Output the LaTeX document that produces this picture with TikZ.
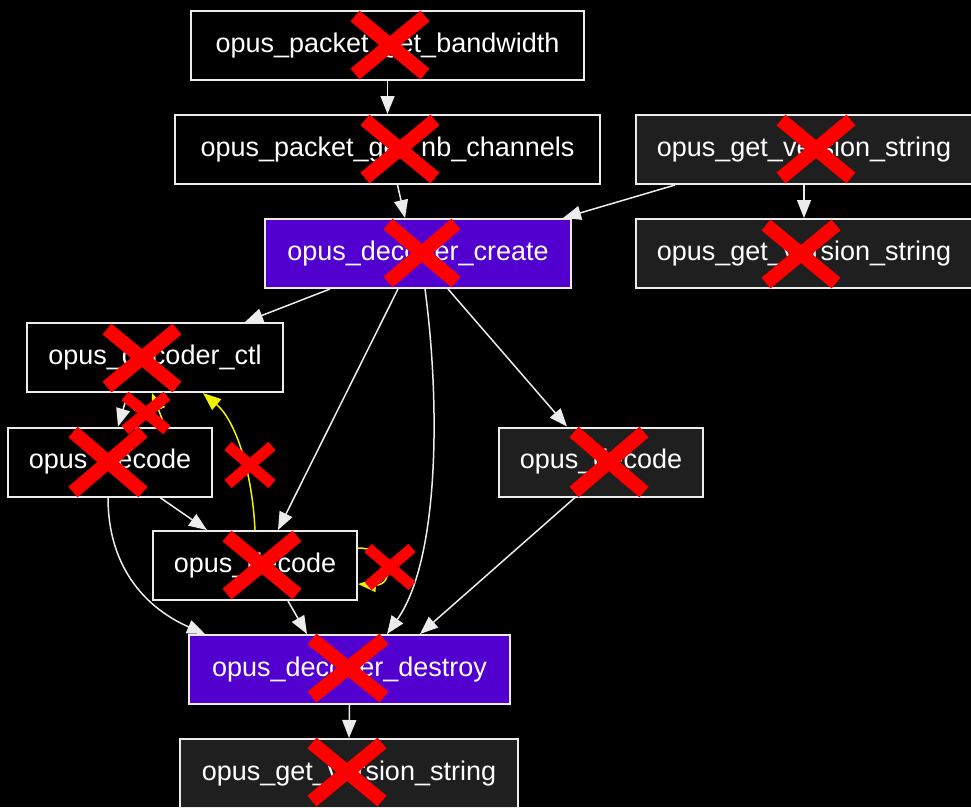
\documentclass[tikz,border=0pt]{standalone}
\usepackage{fontspec}
\setmainfont{Liberation Sans}
\usetikzlibrary{arrows.meta}

\definecolor{edgewhite}{RGB}{236,236,236}
\definecolor{boxgray}{RGB}{31,31,31}
\definecolor{boxpurple}{RGB}{82,0,208}
\definecolor{markred}{RGB}{255,0,0}
\definecolor{linkyellow}{RGB}{242,242,0}

\tikzset{
  fn/.style={draw=edgewhite, line width=2pt, text=white,
    font=\fontsize{27}{30}\selectfont, minimum height=69pt,
    inner sep=0pt, anchor=center},
  plainfn/.style={fn, fill=black},
  grayfn/.style={fn, fill=boxgray},
  purplefn/.style={fn, fill=boxpurple},
  call/.style={draw=edgewhite, line width=1.5pt,
    -{Triangle[length=18pt,width=14pt]}},
  backcall/.style={call, draw=linkyellow},
  strike/.style={draw=markred, line width=#1},
}

% red cross: centre x, centre y, half width, half height, stroke width
\newcommand{\redcross}[5]{%
  \draw[strike=#5] (#1-#3,#2-#4) -- (#1+#3,#2+#4)
                   (#1-#3,#2+#4) -- (#1+#3,#2-#4);}

\begin{document}
\begin{tikzpicture}[x=1pt,y=-1pt]
  \fill[black] (0,0) rectangle (971,807);
  \useasboundingbox (0,0) rectangle (971,807);

  % functions
  \node[plainfn,  minimum width=393pt] (bw)  at (387.5,45.5)  {opus\_packet\_get\_bandwidth};
  \node[plainfn,  minimum width=425pt] (nb)  at (387.5,149.5) {opus\_packet\_get\_nb\_channels};
  \node[grayfn,   minimum width=336pt] (vs1) at (804,149.5)   {opus\_get\_version\_string};
  \node[grayfn,   minimum width=336pt] (vs2) at (804,253.5)   {opus\_get\_version\_string};
  \node[purplefn, minimum width=306pt] (dc)  at (418,253.5)   {opus\_decoder\_create};
  \node[plainfn,  minimum width=256pt] (ctl) at (155,357.5)   {opus\_decoder\_ctl};
  \node[plainfn,  minimum width=204pt] (dl)  at (110,462)     {opus\_decode};
  \node[grayfn,   minimum width=204pt] (dr)  at (601,462)     {opus\_decode};
  \node[plainfn,  minimum width=204pt] (dm)  at (255,565.5)   {opus\_decode};
  \node[purplefn, minimum width=321pt] (dd)  at (349.5,669.5) {opus\_decoder\_destroy};
  \node[grayfn,   minimum width=338pt] (vs3) at (349,773.5)   {opus\_get\_version\_string};

  % calls
  \draw[call] (bw.south) -- (nb.north);
  \draw[call] ([xshift=10pt]nb.south) -- ([xshift=-13pt]dc.north);
  \draw[call] ([xshift=-129pt]vs1.south) -- ([xshift=145pt]dc.north);
  \draw[call] (vs1.south) -- (vs2.north);
  \draw[call] ([xshift=-88pt]dc.south) -- ([xshift=90pt]ctl.north);
  \draw[call] ([xshift=-20pt]dc.south) -- ([xshift=23pt]dm.north);
  \draw[call] ([xshift=7pt]dc.south) .. controls +(15,112) and +(53,-75) .. ([xshift=37.5pt]dd.north);
  \draw[call] ([xshift=30pt]dc.south) -- ([xshift=-34pt]dr.north);
  \draw[call] ([xshift=-27pt]ctl.south) -- ([xshift=8pt]dl.north);
  \draw[call] ([xshift=50pt]dl.south) -- ([xshift=-48pt]dm.north);
  \draw[call] ([xshift=-2pt]dl.south) .. controls +(0,74) and +(-55,-24) .. ([xshift=-144.5pt]dd.north);
  \draw[call] ([xshift=33pt]dm.south) -- ([xshift=-42.5pt]dd.north);
  \draw[call] ([xshift=-26pt]dr.south) -- ([xshift=70.5pt]dd.north);
  \draw[call] (dd.south) -- (vs3.north);

  % callbacks
  \draw[backcall] ([xshift=55pt]dl.north) -- ([xshift=-3pt]ctl.south);
  \draw[backcall] (dm.north) .. controls +(-3,-61) and +(32,27) .. ([xshift=48pt]ctl.south);
  \draw[backcall] ([yshift=17.5pt]dm.east) .. controls +(36,0) and +(36,2) .. ([yshift=-18.5pt]dm.east);

  % crossed-out calls
  \redcross{390}{45}{35}{29}{14pt}
  \redcross{400}{149}{35}{29}{14pt}
  \redcross{816}{149}{35}{29}{14pt}
  \redcross{422}{253}{34}{29}{14pt}
  \redcross{801}{254}{35}{29}{14pt}
  \redcross{142}{358}{35}{29}{14pt}
  \redcross{146}{413}{21}{17}{11pt}
  \redcross{108}{462}{35}{30}{14pt}
  \redcross{250}{465}{22}{19}{11pt}
  \redcross{609}{462}{35}{30}{14pt}
  \redcross{262}{565}{35}{29}{14pt}
  \redcross{390}{567}{22}{19}{11pt}
  \redcross{348}{668}{36}{29}{14pt}
  \redcross{347}{772}{35}{29}{14pt}
\end{tikzpicture}
\end{document}
